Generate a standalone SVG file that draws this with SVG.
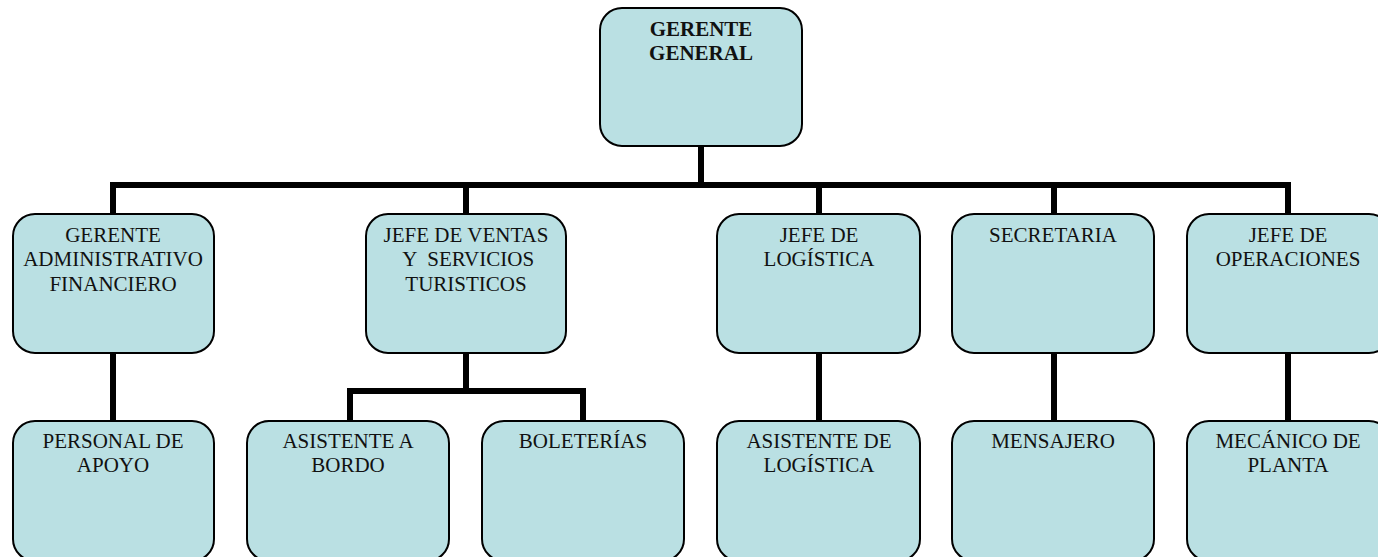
<svg xmlns="http://www.w3.org/2000/svg" width="1378" height="557" viewBox="0 0 1378 557">
<style>
.box{fill:#BAE0E3;stroke:#000;stroke-width:2}
.t{font-family:"Liberation Serif","Times New Roman",serif;font-size:21px;fill:#111;text-anchor:middle}
.b{font-weight:bold}
.c{fill:none;stroke:#000;stroke-width:6;stroke-linejoin:miter;stroke-linecap:butt}
</style>
<rect width="1378" height="557" fill="#fff"/>
<g id="connectors">
<path class="c" d="M701 146V185"/>
<path class="c" d="M113 213V185H1288V215"/>
<path class="c" d="M466 185V213M819 185V213M1054 185V213"/>
<path class="c" d="M113 353V421M819 353V421M1054 353V421M1288 353V421"/>
<path class="c" d="M466 353V391M350 421V391H583V421"/>
</g>
<g id="n_gerente_general">
<rect class="box" x="600" y="8" width="202" height="138" rx="22"/>
<text class="t b" x="701" y="36">GERENTE</text>
<text class="t b" x="701" y="60">GENERAL</text>
</g>
<g id="n_gerente_admin">
<rect class="box" x="13" y="214" width="201" height="139" rx="22"/>
<text class="t" x="113" y="242">GERENTE</text>
<text class="t" x="113" y="266">ADMINISTRATIVO</text>
<text class="t" x="113" y="291">FINANCIERO</text>
</g>
<g id="n_jefe_ventas">
<rect class="box" x="366" y="214" width="200" height="139" rx="22"/>
<text class="t" x="466" y="242">JEFE DE VENTAS</text>
<text class="t" x="466" y="266" xml:space="preserve"> Y  SERVICIOS</text>
<text class="t" x="466" y="291">TURISTICOS</text>
</g>
<g id="n_jefe_logistica">
<rect class="box" x="717" y="214" width="203" height="139" rx="22"/>
<text class="t" x="819" y="242">JEFE DE</text>
<text class="t" x="819" y="266">LOGÍSTICA</text>
</g>
<g id="n_secretaria">
<rect class="box" x="952" y="214" width="202" height="139" rx="22"/>
<text class="t" x="1053" y="242">SECRETARIA</text>
</g>
<g id="n_jefe_operaciones">
<rect class="box" x="1187" y="214" width="204" height="139" rx="22"/>
<text class="t" x="1288" y="242">JEFE DE</text>
<text class="t" x="1288" y="266">OPERACIONES</text>
</g>
<g id="n_personal_apoyo">
<rect class="box" x="13" y="421" width="201" height="140" rx="22"/>
<text class="t" x="113" y="448">PERSONAL DE</text>
<text class="t" x="113" y="472">APOYO</text>
</g>
<g id="n_asistente_bordo">
<rect class="box" x="247" y="421" width="202" height="140" rx="22"/>
<text class="t" x="348" y="448">ASISTENTE A</text>
<text class="t" x="348" y="472">BORDO</text>
</g>
<g id="n_boleterias">
<rect class="box" x="482" y="421" width="202" height="140" rx="22"/>
<text class="t" x="583" y="448">BOLETERÍAS</text>
</g>
<g id="n_asistente_logistica">
<rect class="box" x="717" y="421" width="203" height="140" rx="22"/>
<text class="t" x="819" y="448">ASISTENTE DE</text>
<text class="t" x="819" y="472">LOGÍSTICA</text>
</g>
<g id="n_mensajero">
<rect class="box" x="952" y="421" width="202" height="140" rx="22"/>
<text class="t" x="1053" y="448">MENSAJERO</text>
</g>
<g id="n_mecanico">
<rect class="box" x="1187" y="421" width="204" height="140" rx="22"/>
<text class="t" x="1288" y="448">MECÁNICO DE</text>
<text class="t" x="1288" y="472">PLANTA</text>
</g>
</svg>
